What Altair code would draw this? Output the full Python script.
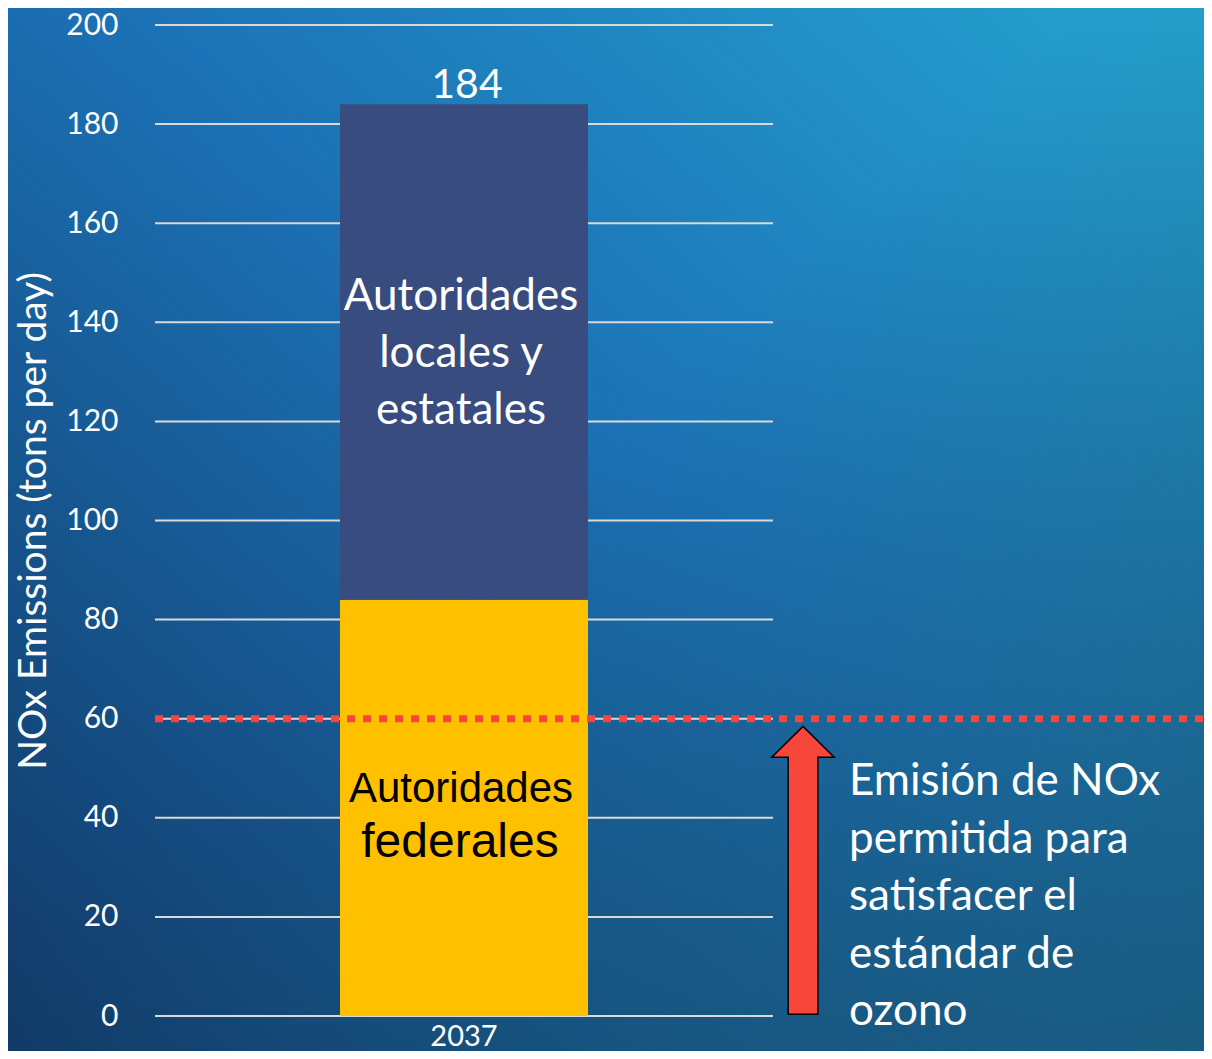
import altair as alt
import pandas as pd

# ---- data ----
year = ["2037"]
segments = ["Autoridades federales", "Autoridades locales y estatales"]
segment_values = [84, 100]
segment_colors = ["#FFC000", "#384C80"]
total_label = "184"
limit_value = 60
y_ticks = [0, 20, 40, 60, 80, 100, 120, 140, 160, 180, 200]
annotation_lines = ["Emisión de NOx", "permitida para", "satisfacer el", "estándar de", "ozono"]
dark_lines = ["Autoridades", "locales y", "estatales"]
yellow_lines = ["Autoridades", "federales"]

# ---- layout ----
PLOT_W, PLOT_H = 618, 991
PAD = {"left": 147, "top": 17, "right": 431, "bottom": 35}
FONT = "Lato"
RED = "#F8463A"

starts, ends, acc = [], [], 0
for v in segment_values:
    starts.append(acc)
    acc += v
    ends.append(acc)

bars = pd.DataFrame({
    "year": year * len(segments),
    "segment": segments,
    "start": starts,
    "end": ends,
    "mid": [(s + e) / 2 for s, e in zip(starts, ends)],
})

yscale = alt.Scale(domain=[0, 200], nice=False, zero=True)
xscale = alt.Scale(domain=year, paddingInner=0, paddingOuter=0)

one = pd.DataFrame({"k": [0]})

full_rect = dict(
    x=alt.value(-PAD["left"]),
    x2=alt.value(PLOT_W + PAD["right"]),
    y=alt.value(-PAD["top"]),
    y2=alt.value(PLOT_H + PAD["bottom"]),
)

bg = alt.Chart(one).mark_rect(
    fill={
        "gradient": "linear",
        "x1": 1, "y1": 0, "x2": 0, "y2": 1,
        "stops": [
            {"offset": 0.0, "color": "#25A4D0"},
            {"offset": 0.45, "color": "#1C72B6"},
            {"offset": 1.0, "color": "#113866"},
        ],
    },
    strokeWidth=0,
).encode(**full_rect)

bg_tint = alt.Chart(one).mark_rect(
    fill={
        "gradient": "linear",
        "x1": 0, "y1": 0, "x2": 1, "y2": 1,
        "stops": [
            {"offset": 0.0, "color": "rgba(24,84,110,0)"},
            {"offset": 0.45, "color": "rgba(24,84,110,0)"},
            {"offset": 1.0, "color": "rgba(24,84,110,0.72)"},
        ],
    },
    strokeWidth=0,
).encode(**full_rect)

grid = alt.Chart(pd.DataFrame({"t": y_ticks})).mark_rule(
    color="#D9D9D9", strokeWidth=2
).encode(
    y=alt.Y("t:Q", scale=yscale),
    x=alt.value(0),
    x2=alt.value(PLOT_W),
)

bar = alt.Chart(bars).mark_bar(size=248).encode(
    x=alt.X("year:N", scale=xscale,
            axis=alt.Axis(title=None, domain=False, ticks=False, labelAngle=0,
                          labelColor="white", labelFont=FONT, labelFontSize=29,
                          labelPadding=6, zindex=1)),
    y=alt.Y("start:Q", scale=yscale,
            axis=alt.Axis(values=y_ticks, grid=False, domain=False, ticks=False,
                          labelColor="white", labelFont=FONT, labelFontSize=30,
                          labelPadding=37, title="NOx Emissions (tons per day)",
                          titleFont=FONT, titleFontSize=39, titleFontWeight="normal",
                          titleColor="white", titlePadding=12, zindex=1)),
    y2="end:Q",
    color=alt.Color("segment:N", scale=alt.Scale(domain=segments, range=segment_colors),
                    legend=None),
)

limit_df = pd.DataFrame({"v": [limit_value], "mid": [limit_value / 2]})
limit_rule = alt.Chart(limit_df).mark_rule(
    color=RED, strokeWidth=7, strokeDash=[8, 8], strokeCap="butt"
).encode(
    y=alt.Y("v:Q", scale=yscale),
    x=alt.value(0),
    x2=alt.value(PLOT_W + PAD["right"]),
)

arrow_path = ("M 0 -1 L 0.217 -0.786 L 0.103 -0.786 L 0.103 1 "
              "L -0.103 1 L -0.103 -0.786 L -0.217 -0.786 Z")
arrow = alt.Chart(limit_df).mark_point(
    shape=arrow_path, filled=True, fill=RED, stroke="black", strokeWidth=1.5,
    opacity=1, fillOpacity=1, size=288 * 288,
).encode(
    y=alt.Y("mid:Q", scale=yscale),
    x=alt.value(648),
    yOffset=alt.value(3),
)

total_df = pd.DataFrame({"year": year, "total": [ends[-1]], "label": [total_label]})
total_text = alt.Chart(total_df).mark_text(
    font=FONT, fontSize=41, color="white", baseline="alphabetic", dy=-6, dx=3
).encode(
    x=alt.X("year:N", scale=xscale),
    y=alt.Y("total:Q", scale=yscale),
    text="label:N",
)

dark_df = bars.iloc[[1]].assign(txt=[dark_lines])
dark_text = alt.Chart(dark_df).mark_text(
    font=FONT, fontSize=44, color="white", baseline="middle", lineHeight=57,
    dy=-55, dx=-3,
).encode(
    x=alt.X("year:N", scale=xscale),
    y=alt.Y("mid:Q", scale=yscale),
    text="txt",
)

yl1 = alt.Chart(bars.iloc[[0]].assign(txt=yellow_lines[0])).mark_text(
    font="Liberation Sans", fontSize=42, color="black", baseline="middle", dy=-19, dx=-3
).encode(
    x=alt.X("year:N", scale=xscale),
    y=alt.Y("mid:Q", scale=yscale),
    text="txt:N",
)
yl2 = alt.Chart(bars.iloc[[0]].assign(txt=yellow_lines[1])).mark_text(
    font="Liberation Sans", fontSize=48, color="black", baseline="middle", dy=35, dx=-4
).encode(
    x=alt.X("year:N", scale=xscale),
    y=alt.Y("mid:Q", scale=yscale),
    text="txt:N",
)

ann_df = pd.DataFrame({"txt": [annotation_lines], "pos": [limit_value * 0.4]})
ann = alt.Chart(ann_df).mark_text(
    font=FONT, fontSize=44, color="white", align="left", baseline="middle",
    lineHeight=57.5, dy=-115,
).encode(
    x=alt.value(694),
    y=alt.Y("pos:Q", scale=yscale),
    text="txt",
)

chart = alt.layer(
    bg, bg_tint, grid, bar, limit_rule, arrow, total_text, dark_text, yl1, yl2, ann
).properties(
    width=PLOT_W, height=PLOT_H, padding=PAD, autosize=alt.AutoSizeParams(type="none"),
).configure_view(stroke=None).configure(background="#1A5C96")

chart.save("out.html", embed_options={"renderer": "svg", "actions": False})
